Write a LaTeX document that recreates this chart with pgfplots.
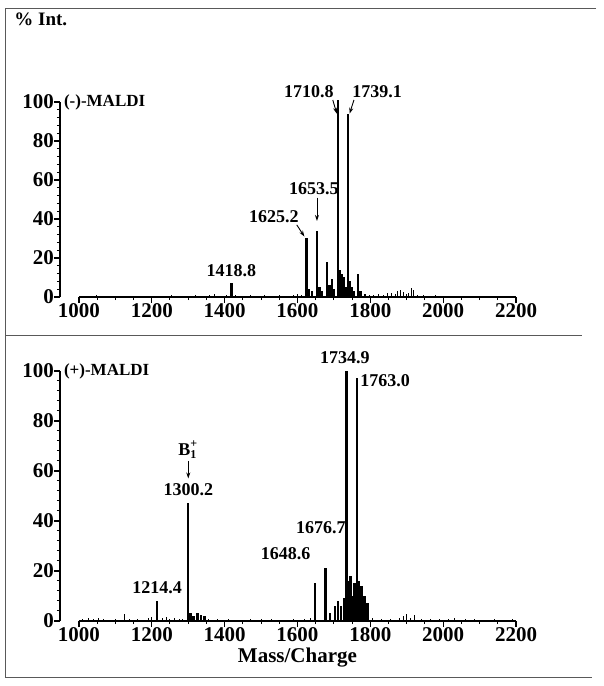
\documentclass[border=0pt]{standalone}
\usepackage{amsmath}
\usepackage{fontspec}
\setmainfont{Liberation Serif}
\usepackage{pgfplots}
\pgfplotsset{compat=1.18}
\usetikzlibrary{arrows.meta}

\pgfplotsset{
  msaxis/.style={
    scale only axis,
    width=228pt,
    xmin=948, xmax=2200,
    ymin=0, ymax=100,
    axis lines*=left,
    axis line style={draw=none},
    clip=false,
    xtick={1000,1200,...,2200},
    ytick={0,20,...,100},
    minor x tick num=3,
    minor y tick num=4,
    tick align=outside,
    major tick length=3pt,
    minor tick length=1.6pt,
    tick style={black, line width=0.6pt},
    minor tick style={black, line width=0.5pt},
    /pgf/number format/assume math mode=true,
    /pgf/number format/1000 sep={},
    tick label style={font=\bfseries\fontsize{10.5}{12}\selectfont},
    xticklabel style={yshift=3.5pt},
    yticklabel style={xshift=3.5pt},
  },
  peak/.style={ycomb, no marks, black, line width=1.2pt},
  noise/.style={ycomb, no marks, black, line width=0.5pt},
}
\tikzset{
  lab/.style={font=\bfseries\fontsize{9}{10}\selectfont, inner sep=1pt},
  arr/.style={-{Stealth[length=3pt,width=2pt]}, line width=0.45pt},
}

\begin{document}
\begin{tikzpicture}
\path[use as bounding box] (0,0) rectangle (302pt,343pt);

% frame
\draw[gray!70!black, line width=0.5pt] (298pt,338.5pt) -- (2.5pt,338.5pt) -- (2.5pt,4pt) -- (296pt,4pt);
\draw[gray!70!black, line width=0.5pt] (2.5pt,175pt) -- (291pt,175pt);

\node[anchor=west, font=\bfseries\fontsize{9.5}{11}\selectfont, inner sep=0pt] at (7pt,333.5pt) {\% Int.};

% ---------- (-)-MALDI ----------
\begin{axis}[msaxis, height=97.5pt, at={(30pt,194.5pt)}, anchor=south west]
\draw[black, line width=0.8pt] (axis cs:948,0) -- (axis cs:948,100);
\draw[black, line width=0.8pt] (axis cs:1000,0) -- (axis cs:2200,0);

\addplot[noise] coordinates {
(1012,0.6) (1030,0.4) (1048,0.8) (1065,0.5) (1090,0.7) (1110,0.4) (1135,0.6)
(1160,0.5) (1185,0.7) (1205,0.4) (1230,0.6) (1255,0.8) (1280,0.5) (1300,0.7)
(1320,0.9) (1340,0.6) (1358,1.0) (1372,1.3) (1390,0.7) (1405,0.9) (1430,0.8)
(1450,0.6) (1470,0.9) (1490,0.7) (1510,0.8) (1530,0.6) (1550,0.9) (1570,0.7)
(1590,1.2) (1600,1.5) (1612,1.0) (1798,1.2) (1810,0.9) (1822,1.4) (1835,1.0)
(1848,1.8) (1858,2.0) (1868,1.5) (1876,3.0) (1883,3.8) (1890,2.4) (1898,1.4)
(1906,1.8) (1913,4.5) (1919,3.4) (1930,1.2) (1945,0.8) (1960,0.6) (1980,0.9)
(2000,0.5) (2025,0.7) (2050,0.4) (2075,0.6) (2100,0.5) (2125,0.7) (2150,0.4)
(2175,0.6) (2195,0.5)
};
\addplot[peak] coordinates {
(1418.8,7) (1625.2,30) (1631,4) (1640,3) (1653.5,34) (1660,5) (1668,3)
(1681,18) (1688,6) (1695,9) (1701,4) (1710.8,101) (1716,14) (1721,12)
(1726,10) (1732,5) (1739.1,94) (1745,8) (1750,5) (1756,3) (1767,12) (1773,3)
(1785,1.5)
};

\node[anchor=west, font=\bfseries\fontsize{8.5}{10}\selectfont, inner sep=0pt] at (axis cs:958,100) {(-)-MALDI};
\node[lab, anchor=south] at (axis cs:1418.8,9) {1418.8};
\node[lab, anchor=south east] at (axis cs:1610,37) {1625.2};
\draw[arr] (axis cs:1598,37) -- (axis cs:1619,31);
\node[lab, anchor=south] at (axis cs:1645,51) {1653.5};
\draw[arr] (axis cs:1653.5,51) -- (axis cs:1653.5,39);
\node[lab, anchor=south east] at (axis cs:1706,101) {1710.8};
\draw[arr] (axis cs:1697,101) -- (axis cs:1708,94);
\node[lab, anchor=south west] at (axis cs:1744,101) {1739.1};
\draw[arr] (axis cs:1755,101) -- (axis cs:1743,94);
\end{axis}

% ---------- (+)-MALDI ----------
\begin{axis}[msaxis, height=125pt, at={(30pt,32.5pt)}, anchor=south west]
\draw[black, line width=0.8pt] (axis cs:948,0) -- (axis cs:948,100);
\draw[black, line width=0.8pt] (axis cs:1000,0) -- (axis cs:2200,0);

\addplot[noise] coordinates {
(1010,0.8) (1025,1.0) (1040,0.6) (1055,1.2) (1068,0.9) (1085,0.5) (1100,0.7)
(1125,2.8) (1140,0.6) (1160,0.8) (1175,0.5) (1190,1.0) (1200,1.4) (1230,1.2)
(1240,1.6) (1250,0.9) (1262,1.1) (1275,0.7) (1285,0.9) (1355,0.8) (1380,0.6)
(1410,0.8) (1440,0.5) (1470,0.7) (1500,0.6) (1530,0.8) (1560,0.5) (1590,0.7)
(1620,0.9) (1635,1.2) (1805,1.0) (1830,0.7) (1855,0.9) (1880,1.2) (1890,1.8)
(1900,2.6) (1910,1.2) (1920,2.2) (1940,0.8) (1965,0.6) (1990,0.9) (2015,0.7)
(2030,1.0) (2060,0.6) (2085,0.8) (2110,0.5) (2140,0.7) (2165,0.5) (2190,0.6)
};
\addplot[peak] coordinates {
(1214.4,8) (1300.2,47) (1306,3) (1315,2) (1325,3) (1335,2.5) (1345,2)
(1648.6,15) (1676.7,21) (1690,3) (1703,6) (1711,8) (1719,6) (1727,9)
(1734.9,100) (1741,16) (1746,18) (1751,10) (1757,15) (1763.0,97) (1769,16)
(1776,14) (1784,10) (1792,7)
};

\node[anchor=west, font=\bfseries\fontsize{8.5}{10}\selectfont, inner sep=0pt] at (axis cs:958,100) {(+)-MALDI};
\node[lab, anchor=south] at (axis cs:1214.4,10) {1214.4};
\node[lab, anchor=south] at (axis cs:1300.2,49) {1300.2};
\draw[arr] (axis cs:1300.2,64) -- (axis cs:1300.2,57);
\node[lab, anchor=south] at (axis cs:1300.2,64) {B$_{\text{1}}^{\text{+}}$};
\node[lab, anchor=east] at (axis cs:1642,27) {1648.6};
\node[lab, anchor=south] at (axis cs:1664,34) {1676.7};
\node[lab, anchor=south] at (axis cs:1730,102) {1734.9};
\node[lab, anchor=west] at (axis cs:1766,96) {1763.0};
\node[font=\bfseries\fontsize{10.5}{12}\selectfont] at (axis cs:1600,-14.5) {Mass/Charge};
\end{axis}
\end{tikzpicture}
\end{document}
